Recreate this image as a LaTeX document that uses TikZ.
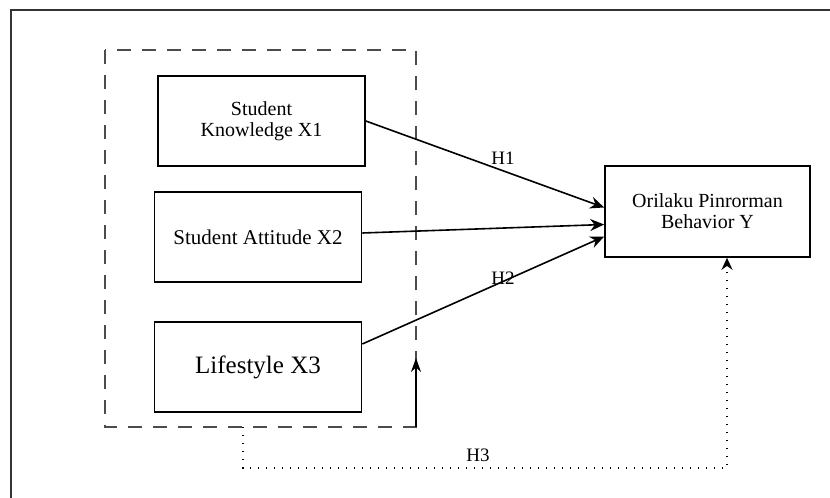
\documentclass[tikz,border=0pt]{standalone}
\usepackage{fontspec}
\setmainfont{Liberation Serif}
\usepackage{tikz}
\usetikzlibrary{arrows.meta}

\begin{document}
\begin{tikzpicture}[x=0.5pt, y=-0.5pt,
    var/.style={draw, line width=0.8pt, minimum width=103.5pt, minimum height=45pt, align=center, font=\fontsize{10}{10.5}\selectfont},
    hyp/.style={-{Stealth[length=7pt,width=6pt]}, line width=0.8pt},
    dotline/.style={line width=0.9pt, dash pattern=on 0.6pt off 3.4pt},
    lab/.style={font=\fontsize{9.5}{10}\selectfont}]
  \useasboundingbox (0,0) rectangle (830,498);
  \draw[line width=1.2pt, black!80] (11,498) -- (11,10) -- (830,10);
  \draw[line width=0.8pt, black!70, dash pattern=on 7pt off 5.5pt] (105,50) rectangle (416,427);
  \node[var] (x1) at (261.5,121) {Student\\Knowledge X1};
  \node[var, font=\fontsize{10.5}{11}\selectfont] (x2) at (258,237) {Student Attitude X2};
  \node[var, font=\fontsize{12.5}{13}\selectfont] (x3) at (258,367) {Lifestyle X3};
  \node[var, minimum width=102.5pt, minimum height=45.5pt] (y) at (707.5,211.5) {Orilaku Pinrorman\\Behavior Y};
  \draw[hyp] (x1.east) -- ([yshift=2pt]y.west);
  \draw[hyp] ([yshift=2pt]x2.east) -- ([yshift=-6.5pt]y.west);
  \draw[hyp] ([yshift=11.5pt]x3.east) -- ([yshift=-12.5pt]y.west);
  \node[lab] (h1) at (503,158) {H1};
  \node[lab] (h2) at (503,278) {H2};
  \draw[-{Stealth[length=7pt,width=5pt]}, line width=0.8pt] (416,427) -- (416,358);
  \draw[dotline, -{Stealth[length=6pt,width=5.5pt]}] (243,427) -- (243,468) -| ([xshift=9.75pt]y.south);
  \node[lab] (h3) at (478,455) {H3};
\end{tikzpicture}
\end{document}
